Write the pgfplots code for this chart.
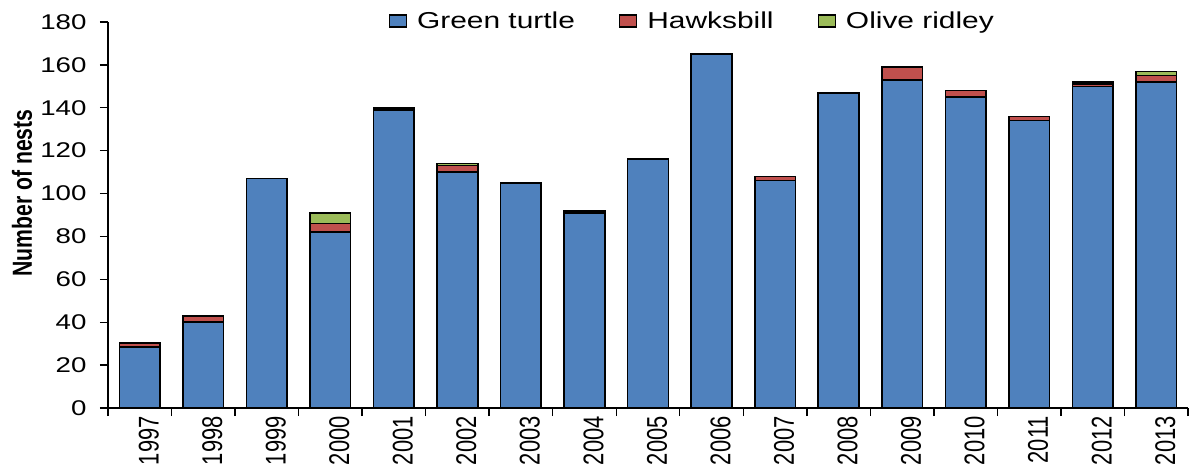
\documentclass[border=0pt]{standalone}
\usepackage{pgfplots}
\pgfplotsset{compat=1.18}
\usepackage{pgfplotstable}
\usepackage{graphicx}
\usepackage{fontspec}
\setmainfont{Liberation Sans}
\newfontfamily\hfont{Liberation Sans}[FakeStretch=1.3]
\newfontfamily\vfont{Liberation Sans}[FakeStretch=0.77]
\definecolor{gblue}{HTML}{4F81BD}
\definecolor{hred}{HTML}{C0504D}
\definecolor{ogreen}{HTML}{9BBB59}

\pgfplotstableread{
x year green hawks olive
0 1997 28.5 1.8 0
1 1998 40 3 0
2 1999 107 0 0
3 2000 82 4 5
4 2001 139 1 0
5 2002 110 3 1
6 2003 105 0 0
7 2004 91 1 0
8 2005 116 0 0
9 2006 165 0 0
10 2007 106 2 0
11 2008 147 0 0
12 2009 153 6 0
13 2010 145 3 0
14 2011 134 2 0
15 2012 150 1 1
16 2013 152 3 2
}\datatable

\begin{document}
\begin{tikzpicture}
\begin{axis}[
  scale only axis,
  width=1080bp, height=386bp,
  at={(0,0)}, anchor=south west,
  xmin=-0.5, xmax=16.5,
  ymin=0, ymax=180,
  ybar stacked,
  bar width=0.64,
  axis lines*=left,
  axis line style={-, line width=1.6bp, black},
  tick align=outside,
  major tick length=8bp,
  tick style={black, line width=1.4bp},
  xtick={-0.5,0.5,...,16.5},
  x tick label as interval,
  xticklabels={1997,1998,1999,2000,2001,2002,2003,2004,2005,2006,2007,2008,2009,2010,2011,2012,2013},
  xticklabel style={rotate=90, anchor=east, inner sep=0pt, yshift=-9bp,
    font=\vfont\fontsize{28.5bp}{30bp}\selectfont},
  ytick={0,20,...,180},
  /pgf/number format/assume math mode=true,
  yticklabel style={font=\hfont\fontsize{21.3bp}{24bp}\selectfont, xshift=-10bp},
  legend columns=3,
  legend style={draw=none, fill=none, at={(axis description cs:0.541,1.003)}, anchor=center,
    font=\hfont\fontsize{23bp}{26bp}\selectfont,
    /tikz/every odd column/.append style={column sep=8bp},
    /tikz/every even column/.append style={column sep=42bp}},
  legend image code/.code={\draw[#1,/tikz/.cd,draw=black,line width=1.4bp] (0bp,-6bp) rectangle (17bp,6bp);},
  clip=false,
]
\addplot[fill=gblue, draw=black, line width=1.6bp] table[x=x, y=green] {\datatable};
\addplot[fill=hred, draw=black, line width=1.6bp] table[x=x, y=hawks] {\datatable};
\addplot[fill=ogreen, draw=black, line width=1.6bp] table[x=x, y=olive] {\datatable};
\legend{Green turtle, Hawksbill, Olive ridley}
\node[rotate=90, anchor=center, inner sep=0pt, font=\bfseries\fontsize{21.2bp}{24bp}\selectfont]
  at (axis description cs:-0.0796,0.557) {\scalebox{1}[1.3]{Number of nests}};
\end{axis}
\pgfresetboundingbox
\path[use as bounding box] (-108bp,-64bp) rectangle (1082bp,408bp);
\end{tikzpicture}
\end{document}
